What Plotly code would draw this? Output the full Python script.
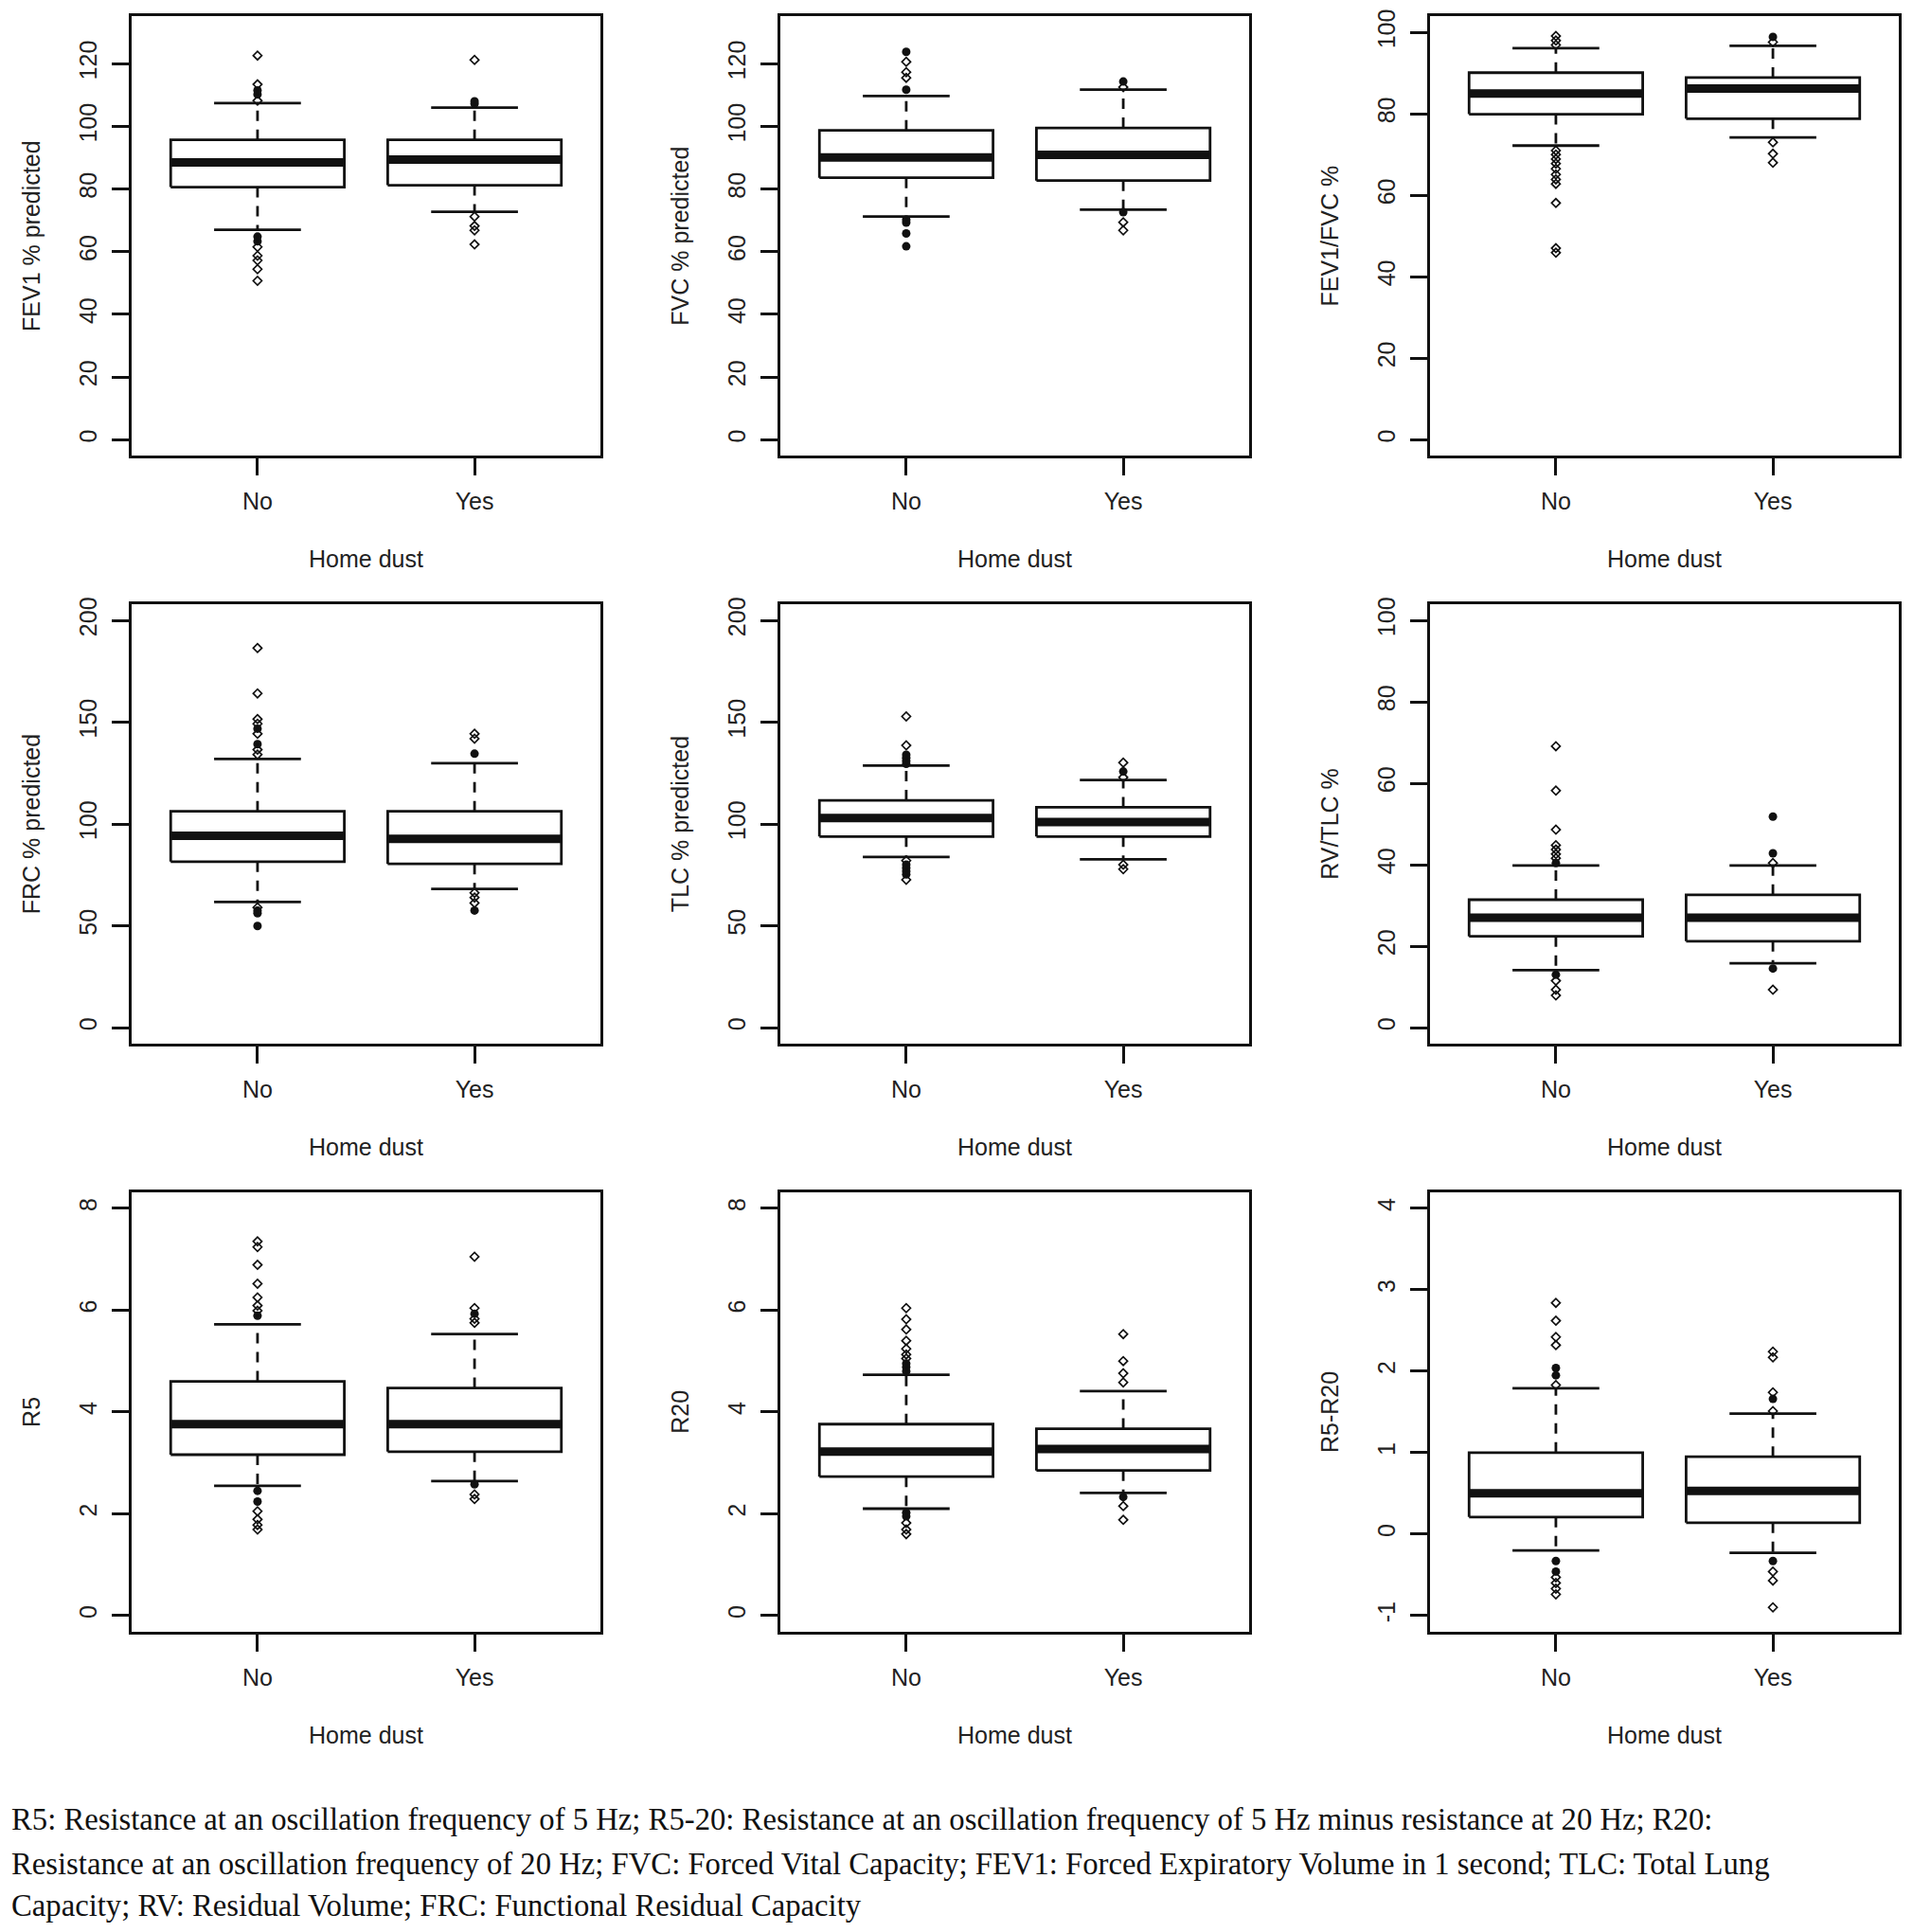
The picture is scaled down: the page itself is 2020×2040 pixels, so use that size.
import plotly.graph_objects as go

# ---------------- data ----------------
groups = ["No", "Yes"]
group_pos = [1, 2]
x_title = "Home dust"

# five-number summaries: [lower whisker, Q1, median, Q3, upper whisker]
fev1_no = [67.0, 80.6, 88.5, 95.7, 107.4]
fev1_yes = [72.7, 81.2, 89.4, 95.7, 106.0]
fev1_no_out = [122.6, 113.4, 108.2, 61.5, 58.7, 57.2, 54.4, 50.7]
fev1_no_dense = [110.2, 111.5, 63.3, 64.8]
fev1_yes_out = [121.2, 71.2, 68.2, 66.8, 62.3]
fev1_yes_dense = [107.2, 108.0]

fvc_no = [71.2, 83.6, 90.1, 98.7, 109.7]
fvc_yes = [73.4, 82.7, 90.9, 99.5, 111.7]
fvc_no_out = [120.6, 117.3, 115.5]
fvc_no_dense = [123.8, 111.7, 69.3, 70.2, 65.8, 61.7]
fvc_yes_out = [112.5, 69.4, 66.8]
fvc_yes_dense = [114.3, 72.6]

ratio_no = [72.2, 79.9, 85.0, 90.1, 96.1]
ratio_yes = [74.2, 78.8, 86.2, 88.9, 96.7]
ratio_no_out = [99.1, 98.0, 96.9, 71.0, 70.0, 68.9, 67.8, 66.5, 65.1, 63.9, 62.8, 58.1, 47.0, 45.9]
ratio_no_dense = []
ratio_yes_out = [97.6, 73.0, 70.2, 68.0]
ratio_yes_dense = [98.9]

frc_no = [61.7, 81.5, 94.2, 106.2, 131.9]
frc_yes = [68.1, 80.4, 92.7, 106.2, 129.8]
frc_no_out = [186.4, 164.1, 151.5, 149.2, 144.3, 136.5, 134.1, 59.0]
frc_no_dense = [146.8, 139.2, 56.2, 57.4, 49.9]
frc_yes_out = [144.3, 141.9, 66.2, 63.9, 61.2]
frc_yes_dense = [134.5, 57.5]

tlc_no = [83.8, 93.8, 102.9, 111.6, 128.7]
tlc_yes = [82.6, 93.8, 100.9, 108.2, 121.6]
tlc_no_out = [152.8, 138.6, 82.0, 72.6]
tlc_no_dense = [129.5, 131.0, 132.5, 134.0, 75.2, 76.8, 78.4, 80.0]
tlc_yes_out = [130.1, 122.9, 80.0, 77.8]
tlc_yes_dense = [125.8]

rvtlc_no = [14.1, 22.4, 27.0, 31.4, 39.8]
rvtlc_yes = [15.8, 21.2, 27.0, 32.6, 39.8]
rvtlc_no_out = [69.1, 58.2, 48.6, 44.8, 43.7, 42.6, 41.6, 11.5, 9.3, 7.9]
rvtlc_no_dense = [40.4, 13.0]
rvtlc_yes_out = [40.4, 9.3]
rvtlc_yes_dense = [51.8, 42.8, 14.5]

r5_no = [2.55, 3.16, 3.76, 4.60, 5.72]
r5_yes = [2.64, 3.22, 3.76, 4.47, 5.53]
r5_no_out = [7.35, 7.24, 6.89, 6.52, 6.25, 6.09, 5.99, 2.05, 1.89, 1.78, 1.69]
r5_no_dense = [5.89, 2.45, 2.24]
r5_yes_out = [7.05, 6.04, 5.83, 5.75, 2.38, 2.29]
r5_yes_dense = [5.93, 2.58]

r20_no = [2.10, 2.73, 3.22, 3.76, 4.73]
r20_yes = [2.41, 2.85, 3.27, 3.67, 4.41]
r20_no_out = [6.04, 5.82, 5.62, 5.40, 5.24, 5.13, 5.05, 1.82, 1.69, 1.60]
r20_no_dense = [4.80, 4.88, 4.95, 1.95, 2.02]
r20_yes_out = [5.53, 5.00, 4.76, 4.58, 2.15, 1.88]
r20_yes_dense = [2.33]

diff_no = [-0.20, 0.21, 0.50, 1.00, 1.79]
diff_yes = [-0.23, 0.14, 0.53, 0.95, 1.48]
diff_no_out = [2.84, 2.62, 2.42, 2.32, 1.83, -0.53, -0.60, -0.67, -0.74]
diff_no_dense = [2.04, 1.95, -0.33, -0.46]
diff_yes_out = [2.24, 2.17, 1.74, 1.51, -0.46, -0.57, -0.90]
diff_yes_dense = [1.66, -0.33]

y_titles = ["FEV1 % predicted", "FVC % predicted", "FEV1/FVC %",
            "FRC % predicted", "TLC % predicted", "RV/TLC %",
            "R5", "R20", "R5-R20"]
y_limits = [(0, 130), (0, 130), (0, 100),
            (0, 200), (0, 200), (0, 100),
            (0, 8), (0, 8), (-1, 4)]
y_ticks = [[0, 20, 40, 60, 80, 100, 120], [0, 20, 40, 60, 80, 100, 120],
           [0, 20, 40, 60, 80, 100],
           [0, 50, 100, 150, 200], [0, 50, 100, 150, 200],
           [0, 20, 40, 60, 80, 100],
           [0, 2, 4, 6, 8], [0, 2, 4, 6, 8], [-1, 0, 1, 2, 3, 4]]

panels = [
    ([fev1_no, fev1_yes], [fev1_no_out, fev1_yes_out], [fev1_no_dense, fev1_yes_dense]),
    ([fvc_no, fvc_yes], [fvc_no_out, fvc_yes_out], [fvc_no_dense, fvc_yes_dense]),
    ([ratio_no, ratio_yes], [ratio_no_out, ratio_yes_out], [ratio_no_dense, ratio_yes_dense]),
    ([frc_no, frc_yes], [frc_no_out, frc_yes_out], [frc_no_dense, frc_yes_dense]),
    ([tlc_no, tlc_yes], [tlc_no_out, tlc_yes_out], [tlc_no_dense, tlc_yes_dense]),
    ([rvtlc_no, rvtlc_yes], [rvtlc_no_out, rvtlc_yes_out], [rvtlc_no_dense, rvtlc_yes_dense]),
    ([r5_no, r5_yes], [r5_no_out, r5_yes_out], [r5_no_dense, r5_yes_dense]),
    ([r20_no, r20_yes], [r20_no_out, r20_yes_out], [r20_no_dense, r20_yes_dense]),
    ([diff_no, diff_yes], [diff_no_out, diff_yes_out], [diff_no_dense, diff_yes_dense]),
]

footnote_lines = [
    "R5: Resistance at an oscillation frequency of 5 Hz; R5-20: Resistance at an oscillation frequency of 5 Hz minus resistance at 20 Hz; R20:",
    "Resistance at an oscillation frequency of 20 Hz; FVC: Forced Vital Capacity; FEV1: Forced Expiratory Volume in 1 second; TLC: Total Lung",
    "Capacity; RV: Residual Volume; FRC: Functional Residual Capacity",
]

# ---------------- layout / style ----------------
OFF = 8                      # default page body margin
W, H = 2020 - 2 * OFF, 2040 - 2 * OFF
col_left = [139, 824, 1510]  # page pixel positions of the plot frames
panel_w = 495
row_top = [10, 633, 1256]
panel_h = 466
BOX_HALF = 0.4
CAP_HALF = 0.2
INK = "#111111"
TXT = "#222222"
FONT = "Liberation Sans, Arial, sans-serif"
FS = 25

fig = go.Figure()
layout = dict(
    width=W, height=H,
    margin=dict(l=0, r=0, t=0, b=0),
    paper_bgcolor="white", plot_bgcolor="white",
    showlegend=False,
    font=dict(family=FONT, size=FS, color=TXT),
)

for i, (stats, outs, dense) in enumerate(panels):
    r, c = divmod(i, 3)
    n = i + 1
    xa = "x" if n == 1 else f"x{n}"
    ya = "y" if n == 1 else f"y{n}"
    xkey = "xaxis" if n == 1 else f"xaxis{n}"
    ykey = "yaxis" if n == 1 else f"yaxis{n}"
    lo, hi = y_limits[i]
    pad = 0.04 * (hi - lo)
    x0 = (col_left[c] - OFF) / W
    x1 = (col_left[c] - OFF + panel_w) / W
    y1 = 1 - (row_top[r] - OFF) / H
    y0 = 1 - (row_top[r] - OFF + panel_h) / H

    layout[xkey] = dict(
        domain=[x0, x1], anchor=ya, range=[0.42, 2.58],
        tickmode="array", tickvals=group_pos, ticktext=groups,
        ticks="outside", ticklen=18, tickwidth=2.6, tickcolor=INK,
        showline=True, linewidth=2.6, linecolor=INK, mirror=True,
        showgrid=False, zeroline=False, fixedrange=True,
        tickfont=dict(family=FONT, size=FS, color=TXT),
        ticklabelstandoff=6,
        title=dict(text=x_title, standoff=40, font=dict(family=FONT, size=FS, color=TXT)),
    )
    layout[ykey] = dict(
        domain=[y0, y1], anchor=xa, range=[lo - pad, hi + pad],
        tickmode="array", tickvals=y_ticks[i], ticktext=[str(v) for v in y_ticks[i]],
        ticks="outside", ticklen=18, tickwidth=2.6, tickcolor=INK,
        showline=True, linewidth=2.6, linecolor=INK, mirror=True,
        showgrid=False, zeroline=False, fixedrange=True,
        tickangle=-90,
        tickfont=dict(family=FONT, size=FS, color=TXT),
        ticklabelstandoff=6,
        title=dict(text=y_titles[i], standoff=30, font=dict(family=FONT, size=FS, color=TXT)),
    )

    for g, xc in enumerate(group_pos):
        lw, q1, med, q3, uw = stats[g]
        fig.add_trace(go.Scatter(
            x=[xc - BOX_HALF, xc + BOX_HALF, xc + BOX_HALF, xc - BOX_HALF, xc - BOX_HALF],
            y=[q1, q1, q3, q3, q1], mode="lines",
            line=dict(color=INK, width=2.8), xaxis=xa, yaxis=ya, hoverinfo="skip"))
        fig.add_trace(go.Scatter(
            x=[xc, xc, None, xc, xc], y=[q3, uw, None, q1, lw], mode="lines",
            line=dict(color=INK, width=2.8, dash="11px,9px"), xaxis=xa, yaxis=ya, hoverinfo="skip"))
        fig.add_trace(go.Scatter(
            x=[xc - CAP_HALF, xc + CAP_HALF, None, xc - CAP_HALF, xc + CAP_HALF],
            y=[uw, uw, None, lw, lw], mode="lines",
            line=dict(color=INK, width=2.8), xaxis=xa, yaxis=ya, hoverinfo="skip"))
        fig.add_trace(go.Scatter(
            x=[xc - BOX_HALF, xc + BOX_HALF], y=[med, med], mode="lines",
            line=dict(color=INK, width=9), xaxis=xa, yaxis=ya, hoverinfo="skip"))
        if outs[g]:
            fig.add_trace(go.Scatter(
                x=[xc] * len(outs[g]), y=outs[g], mode="markers",
                marker=dict(symbol="diamond-open", size=7, color=INK, line=dict(width=1.7)),
                xaxis=xa, yaxis=ya, hoverinfo="skip"))
        if dense[g]:
            fig.add_trace(go.Scatter(
                x=[xc] * len(dense[g]), y=dense[g], mode="markers",
                marker=dict(symbol="circle", size=9, color=INK),
                xaxis=xa, yaxis=ya, hoverinfo="skip"))

foot_y = [1921, 1968, 2012]
annotations = []
for line, yy in zip(footnote_lines, foot_y):
    annotations.append(dict(
        text=line, xref="paper", yref="paper", x=(10 - OFF) / W, y=1 - (yy - OFF) / H,
        xanchor="left", yanchor="middle", showarrow=False, align="left",
        font=dict(family="Liberation Serif, Times New Roman, serif", size=32.7, color="#111111"),
    ))
layout["annotations"] = annotations

fig.update_layout(**layout)
fig.write_html("out.html")
